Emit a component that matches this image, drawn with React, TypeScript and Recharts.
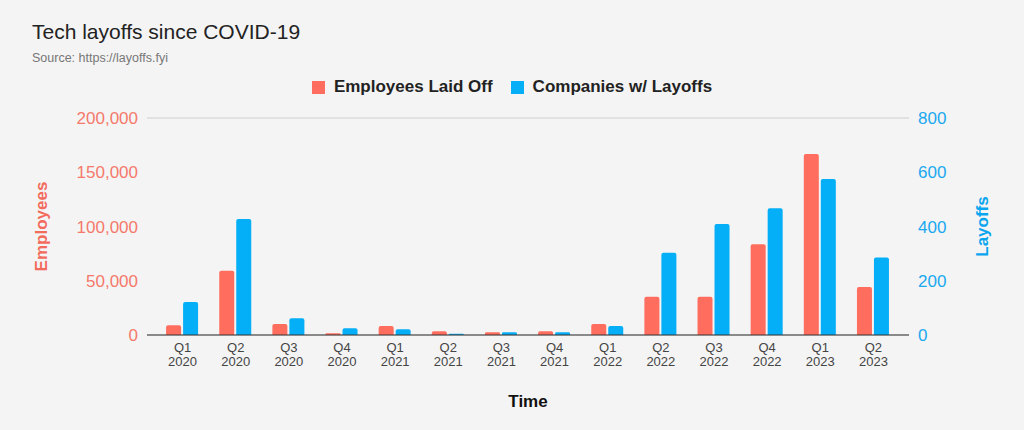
import { BarChart, Bar, XAxis, YAxis, CartesianGrid } from 'recharts';

const quarters = [
    'Q1 2020', 'Q2 2020', 'Q3 2020', 'Q4 2020',
    'Q1 2021', 'Q2 2021', 'Q3 2021', 'Q4 2021',
    'Q1 2022', 'Q2 2022', 'Q3 2022', 'Q4 2022',
    'Q1 2023', 'Q2 2023',
];

const employeesLaidOff = [
    8900, 59300, 10100, 1600,
    8300, 3400, 2500, 3400,
    10100, 35300, 35300, 83600,
    166800, 44200,
];

const companiesWithLayoffs = [
    122, 428, 62, 25,
    21, 5, 10, 10,
    33, 303, 409, 467,
    575, 286,
];

const employeeTicks = [0, 50000, 100000, 150000, 200000];
const layoffTicks = [0, 200, 400, 600, 800];

const series = [
    { key: 'employees', name: 'Employees Laid Off', color: '#ff6d5e' },
    { key: 'companies', name: 'Companies w/ Layoffs', color: '#04aff7' },
];

const data = quarters.map((q, i) => ({
    quarter: q,
    employees: employeesLaidOff[i],
    companies: companiesWithLayoffs[i],
}));

const FONT = '"Liberation Sans", Arial, sans-serif';

// two-line quarter / year label
const QuarterTick = (props: any) => {
    const { x, y, payload } = props;
    const [q, yr] = String(payload.value).split(' ');
    return (
        <text x={x} y={y} textAnchor="middle" fill="#444" fontSize={13} fontFamily={FONT}>
            <tspan x={x} dy="0.7em">{q}</tspan>
            <tspan x={x} dy="1.1em">{yr}</tspan>
        </text>
    );
};

const sideLabel = (text: string, color: string, dx: number) => (props: any) => {
    const { x, y, height } = props.viewBox;
    const cx = x + dx;
    const cy = y + height / 2;
    return (
        <text
            x={cx}
            y={cy}
            transform={`rotate(-90, ${cx}, ${cy})`}
            textAnchor="middle"
            dominantBaseline="central"
            fill={color}
            fontSize={17}
            fontWeight="bold"
            fontFamily={FONT}
        >
            {text}
        </text>
    );
};

export default function App() {
    return (
        <div
            style={{
                position: 'absolute',
                top: 0,
                left: 0,
                width: 1024,
                height: 430,
                background: '#f4f4f4',
                fontFamily: FONT,
                overflow: 'hidden',
            }}
        >
            <div style={{ position: 'absolute', left: 32, top: 20, fontSize: 21, color: '#222' }}>
                Tech layoffs since COVID-19
            </div>
            <div style={{ position: 'absolute', left: 32, top: 51, fontSize: 12.5, color: '#777' }}>
                Source: https://layoffs.fyi
            </div>

            {/* legend */}
            <div
                style={{
                    position: 'absolute',
                    top: 77,
                    left: 0,
                    width: 1024,
                    display: 'flex',
                    justifyContent: 'center',
                    gap: 18,
                    fontSize: 17,
                    fontWeight: 'bold',
                    color: '#222',
                }}
            >
                {series.map((s) => (
                    <div key={s.key} style={{ display: 'flex', alignItems: 'center', gap: 9 }}>
                        <div style={{ width: 13, height: 13, background: s.color }} />
                        {s.name}
                    </div>
                ))}
            </div>

            <div style={{ position: 'absolute', top: 0, left: 0 }}>
                <BarChart
                    width={1024}
                    height={430}
                    data={data}
                    margin={{ top: 118, right: 15, bottom: 15, left: 10 }}
                    barCategoryGap="19%"
                    barGap={2}
                >
                    <CartesianGrid vertical={false} stroke="#cfcfcf" />
                    <XAxis
                        dataKey="quarter"
                        xAxisId="x"
                        height={80}
                        padding={{ left: 9, right: 9 }}
                        stroke="#333"
                        tickLine={false}
                        interval={0}
                        tick={<QuarterTick />}
                        label={(props: any) => {
                            const { x, y, width } = props.viewBox;
                            return (
                                <text
                                    x={x + width / 2}
                                    y={y + 72}
                                    textAnchor="middle"
                                    fontSize={17}
                                    fontWeight="bold"
                                    fill="#111"
                                    fontFamily={FONT}
                                >
                                    Time
                                </text>
                            );
                        }}
                    />
                    <YAxis
                        yAxisId="left"
                        width={137}
                        domain={[0, 200000]}
                        ticks={employeeTicks}
                        axisLine={false}
                        tickLine={false}
                        tickMargin={3}
                        tickFormatter={(v: number) => v.toLocaleString('en-US')}
                        tick={{ fill: '#f4796b', fontSize: 17, fontFamily: FONT }}
                        label={sideLabel('Employees', '#f26b5c', 31)}
                    />
                    <YAxis
                        yAxisId="right"
                        orientation="right"
                        width={100}
                        domain={[0, 800]}
                        ticks={layoffTicks}
                        axisLine={false}
                        tickLine={false}
                        tickMargin={3}
                        tick={{ fill: '#1aa8ef', fontSize: 17, fontFamily: FONT }}
                        label={sideLabel('Layoffs', '#0aa5ef', 73)}
                    />
                    <Bar
                        xAxisId="x"
                        yAxisId="left"
                        dataKey="employees"
                        name={series[0].name}
                        fill={series[0].color}
                        radius={[2, 2, 0, 0]}
                        isAnimationActive={false}
                    />
                    <Bar
                        xAxisId="x"
                        yAxisId="right"
                        dataKey="companies"
                        name={series[1].name}
                        fill={series[1].color}
                        radius={[2, 2, 0, 0]}
                        isAnimationActive={false}
                    />
                </BarChart>
            </div>
        </div>
    );
}
